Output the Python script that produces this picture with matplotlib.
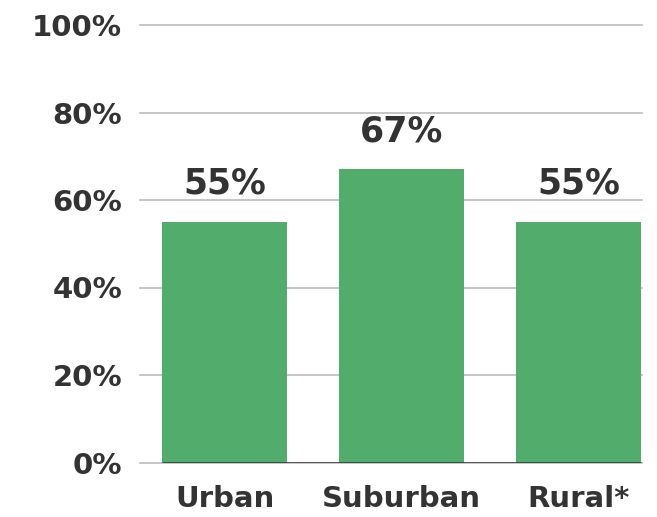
import numpy as np
import matplotlib.pyplot as plt

categories = ['Urban', 'Suburban', 'Rural*']
values = [55, 67, 55]
yticks = [0, 20, 40, 60, 80, 100]
ytick_labels = ['0%', '20%', '40%', '60%', '80%', '100%']

green = '#52ad6d'
dark = '#333333'

plt.rcParams['font.family'] = ['DejaVu Sans']

fig = plt.figure(figsize=(6.57, 5.17), dpi=100)
ax = fig.add_axes([140 / 657, (517 - 462.5) / 517, (641.5 - 140) / 657, (462.5 - 25) / 517])

x = np.arange(len(categories))
width = 0.705
ax.bar(x, values, width=width, color=green, zorder=2)

for xi, v in zip(x, values):
    ax.text(xi, v + 4.8, '%d%%' % v, ha='center', va='bottom',
            fontsize=25, fontweight='bold', color=dark)

ax.hlines(0, x[0] - width / 2, x[-1] + width / 2, color=dark, lw=1.8, zorder=3)

ax.set_xlim(-0.477, 2.353)
ax.set_ylim(0, 100)
ax.set_yticks(yticks, ytick_labels)
ax.set_xticks(x, categories)
ax.grid(axis='y', color='#bbbbbb', lw=1.2, zorder=0)
for gl in ax.get_ygridlines():
    gl.set_clip_on(False)
ax.set_axisbelow(True)

for s in ax.spines.values():
    s.set_visible(False)
ax.tick_params(axis='both', length=0, labelsize=21, labelcolor=dark)
ax.tick_params(axis='y', pad=13)
ax.tick_params(axis='x', pad=16)
for lab in ax.get_xticklabels() + ax.get_yticklabels():
    lab.set_fontweight('bold')

fig.savefig('out.png', dpi=100)
